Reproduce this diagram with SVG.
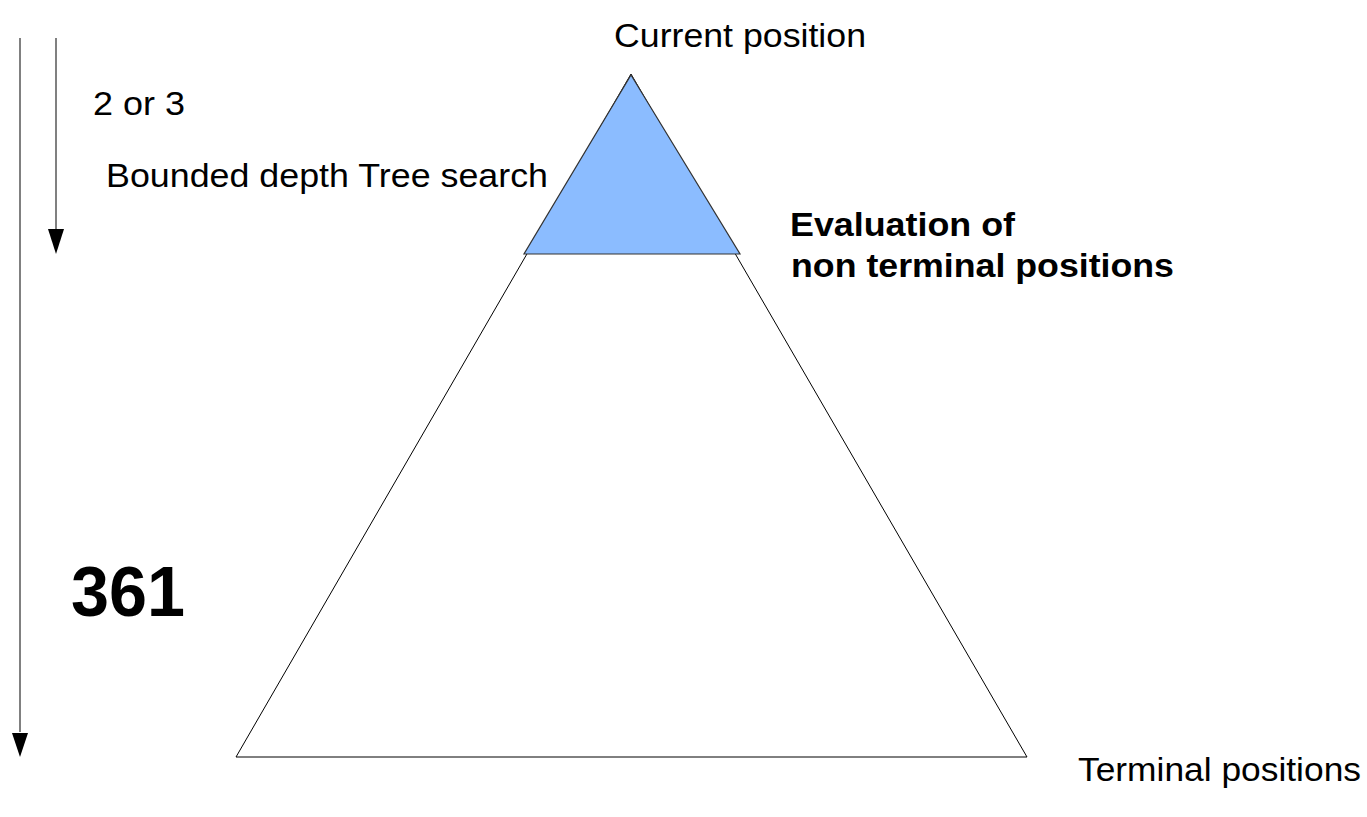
<svg xmlns="http://www.w3.org/2000/svg" width="1367" height="817" viewBox="0 0 1367 817">
<style>
text{font-family:"Liberation Sans",Arial,sans-serif;fill:#000}
.t{font-size:33px}
.b{font-size:33px;font-weight:bold}
.ax{stroke:#808080;stroke-width:2;fill:none}
</style>
<defs>
<marker id="ah" markerUnits="userSpaceOnUse" markerWidth="18" markerHeight="26" refX="8" refY="25" orient="auto-start-reverse" viewBox="0 0 16 26">
<path d="M0,0 L16,0 L8,25 Z" fill="#000"/>
</marker>
</defs>
<rect width="1367" height="817" fill="#fff"/>
<g id="connectors">
<line class="ax" x1="20" y1="38" x2="20" y2="732" />
<path d="M12,733 L28,733 L20,757 Z" fill="#000"/>
<line class="ax" x1="56" y1="38" x2="56" y2="229" />
<path d="M48,229 L64,229 L56,254 Z" fill="#000"/>
</g>
<g id="big-tree">
<polygon points="631,74 1027,757 236,757" fill="#fff" stroke="#000" stroke-width="1"/>
</g>
<g id="search-tree">
<polygon points="631,75 740,254 524,254" fill="#8bbcff" stroke="#333" stroke-width="1.2"/>
</g>
<g id="labels">
<text class="t" x="614" y="47" textLength="252" lengthAdjust="spacingAndGlyphs">Current position</text>
<text class="t" x="93" y="115" textLength="92" lengthAdjust="spacingAndGlyphs">2 or 3</text>
<text class="t" x="106" y="187" textLength="442" lengthAdjust="spacingAndGlyphs">Bounded depth Tree search</text>
<text class="b" x="790" y="236" textLength="225" lengthAdjust="spacingAndGlyphs">Evaluation of</text>
<text class="b" x="791" y="277" textLength="383" lengthAdjust="spacingAndGlyphs">non terminal positions</text>
<text x="71" y="616" style="font-size:70px;font-weight:bold" textLength="114" lengthAdjust="spacingAndGlyphs">361</text>
<text class="t" x="1078" y="781" textLength="283" lengthAdjust="spacingAndGlyphs">Terminal positions</text>
</g>
</svg>
